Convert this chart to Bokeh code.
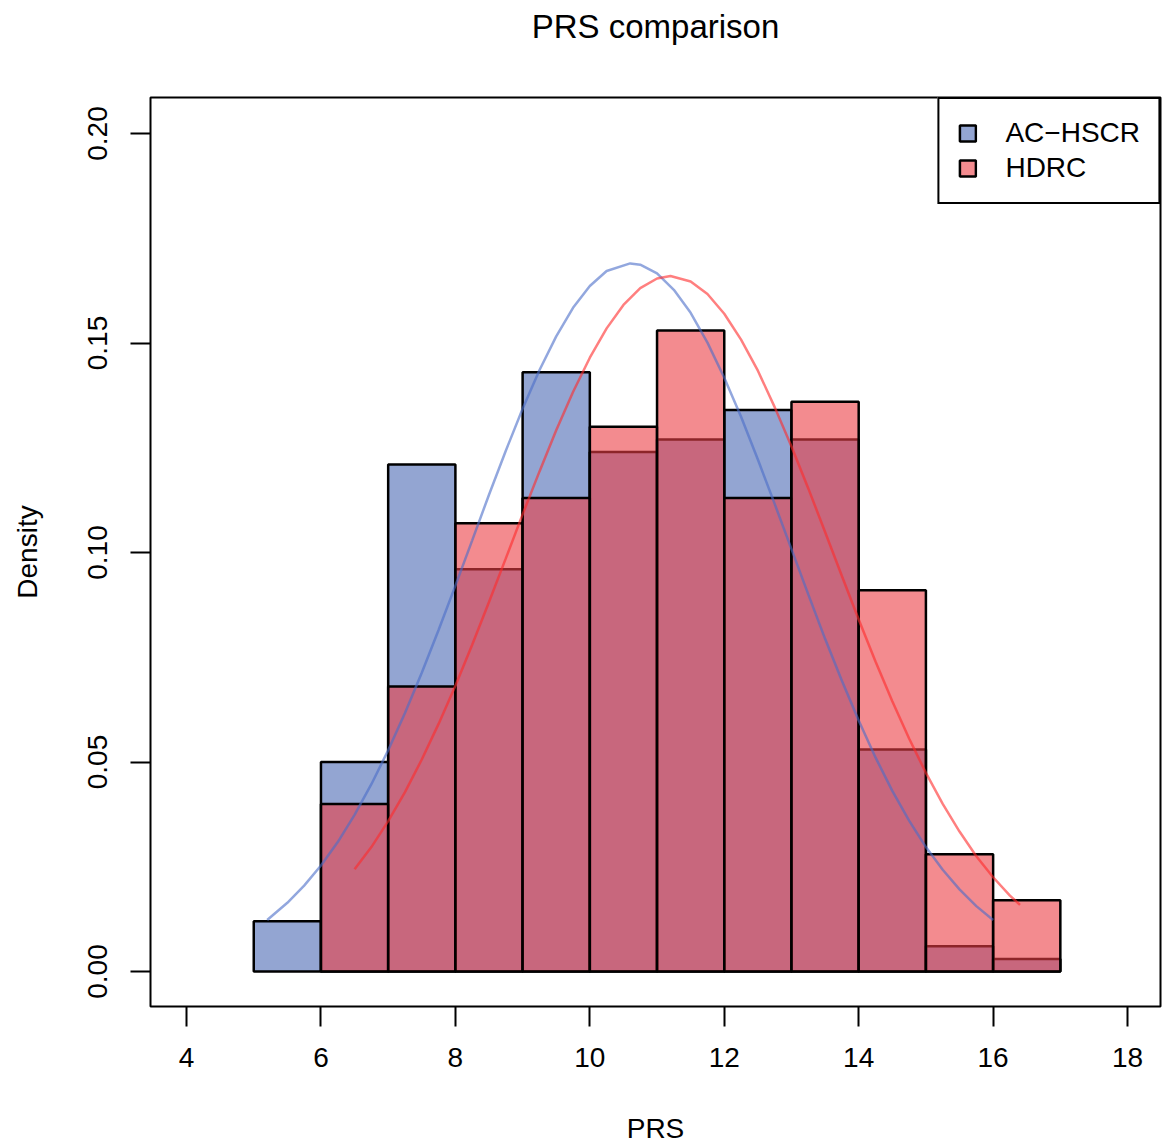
from bokeh.plotting import figure
from bokeh.models import FixedTicker, Legend, LegendItem, ColumnDataSource, Title
from bokeh.embed import file_html
from bokeh.resources import INLINE

# ---------------- data ----------------
ac_bin_left = [5, 6, 7, 8, 9, 10, 11, 12, 13, 14, 15, 16]
ac_density = [0.012, 0.050, 0.121, 0.096, 0.143, 0.124, 0.127, 0.134, 0.127, 0.053, 0.006, 0.003]

hd_bin_left = [6, 7, 8, 9, 10, 11, 12, 13, 14, 15, 16]
hd_density = [0.040, 0.068, 0.107, 0.113, 0.130, 0.153, 0.113, 0.136, 0.091, 0.028, 0.017]

ac_curve_x = [5.2, 5.5, 5.75, 6.0, 6.25, 6.5, 6.75, 7.0, 7.25, 7.5, 7.75, 8.0, 8.25, 8.5, 8.75,
              9.0, 9.25, 9.5, 9.75, 10.0, 10.25, 10.6, 10.75, 11.0, 11.25, 11.5, 11.75, 12.0,
              12.25, 12.5, 12.75, 13.0, 13.25, 13.5, 13.75, 14.0, 14.25, 14.5, 14.75, 15.0,
              15.25, 15.5, 15.75, 16.0]
ac_curve_y = [0.0123, 0.0164, 0.0205, 0.0253, 0.0309, 0.0374, 0.0447, 0.0528, 0.0617, 0.0713,
              0.0815, 0.0921, 0.1029, 0.1138, 0.1243, 0.1343, 0.1435, 0.1516, 0.1584, 0.1636,
              0.1672, 0.1690, 0.1687, 0.1666, 0.1627, 0.1572, 0.1501, 0.1417, 0.1324, 0.1222,
              0.1116, 0.1008, 0.0900, 0.0794, 0.0694, 0.0599, 0.0511, 0.0431, 0.0360, 0.0297,
              0.0243, 0.0196, 0.0156, 0.0123]

hd_curve_x = [6.5, 6.75, 7.0, 7.25, 7.5, 7.75, 8.0, 8.25, 8.5, 8.75, 9.0, 9.25, 9.5, 9.75,
              10.0, 10.25, 10.5, 10.75, 11.0, 11.2, 11.5, 11.75, 12.0, 12.25, 12.5, 12.75,
              13.0, 13.25, 13.5, 13.75, 14.0, 14.25, 14.5, 14.75, 15.0, 15.25, 15.5, 15.75,
              16.0, 16.25, 16.4]
hd_curve_y = [0.0244, 0.0297, 0.0359, 0.0428, 0.0506, 0.0591, 0.0682, 0.0780, 0.0882, 0.0986,
              0.1091, 0.1193, 0.1292, 0.1383, 0.1465, 0.1535, 0.1591, 0.1631, 0.1654, 0.1660,
              0.1647, 0.1617, 0.1570, 0.1508, 0.1434, 0.1347, 0.1253, 0.1153, 0.1049, 0.0944,
              0.0840, 0.0740, 0.0645, 0.0556, 0.0474, 0.0400, 0.0334, 0.0275, 0.0225, 0.0181,
              0.0159]

x_ticks = [4, 6, 8, 10, 12, 14, 16, 18]
y_ticks = [0.00, 0.05, 0.10, 0.15, 0.20]
y_tick_labels = ["0.00", "0.05", "0.10", "0.15", "0.20"]

series_names = ["AC\u2212HSCR", "HDRC"]
chart_title = "PRS comparison"
# --------------------------------------

FONT = "Liberation Sans"

p = figure(width=1164, height=1146, output_backend="svg", toolbar_location=None,
           x_range=(3.464, 18.49), y_range=(-0.00835, 0.2086),
           min_border_left=150, min_border_right=4, min_border_top=97, min_border_bottom=140,
           title=None)

# spacer panel next to the frame, then the real title above it
spacer = Title(text=" ", text_font=FONT, text_font_size="10px", standoff=36)
p.add_layout(spacer, "above")
main_title = Title(text=chart_title, text_font=FONT, text_font_size="33px",
                   text_font_style="normal", text_color="black", align="center", standoff=8)
p.add_layout(main_title, "above")

p.grid.visible = False
p.outline_line_color = "black"
p.outline_line_alpha = 1.0
p.outline_line_width = 2
p.background_fill_color = "white"
p.border_fill_color = "white"

ac_src = ColumnDataSource(dict(x=[b + 0.5 for b in ac_bin_left], top=ac_density))
hd_src = ColumnDataSource(dict(x=[b + 0.5 for b in hd_bin_left], top=hd_density))

r_ac = p.vbar(x="x", top="top", bottom=0, width=1.0, source=ac_src,
              fill_color="#93a5d2", fill_alpha=1.0, line_color="black", line_width=2.5)
r_hd = p.vbar(x="x", top="top", bottom=0, width=1.0, source=hd_src,
              fill_color="#eb3e44", fill_alpha=0.6, line_color="black", line_width=2.5)

p.line(ac_curve_x, ac_curve_y, line_color="#4a6cc8", line_alpha=0.6, line_width=2.5)
p.line(hd_curve_x, hd_curve_y, line_color="#ff2a2a", line_alpha=0.6, line_width=2.5)

for ax in (p.xaxis, p.yaxis):
    ax.axis_line_color = None
    ax.major_tick_out = 20
    ax.major_tick_in = 0
    ax.minor_tick_line_color = None
    ax.major_tick_line_color = "black"
    ax.major_tick_line_width = 2
    ax.major_label_text_font = FONT
    ax.major_label_text_font_size = "28px"
    ax.major_label_text_color = "black"
    ax.axis_label_text_font = FONT
    ax.axis_label_text_font_size = "28px"
    ax.axis_label_text_font_style = "normal"
    ax.axis_label_text_color = "black"

p.xaxis.major_label_standoff = 21
p.yaxis.major_label_standoff = 23
p.xaxis.ticker = FixedTicker(ticks=x_ticks)
p.yaxis.ticker = FixedTicker(ticks=y_ticks)
p.yaxis.major_label_overrides = {t: s for t, s in zip(y_ticks, y_tick_labels)}
p.yaxis.major_label_orientation = "vertical"
p.xaxis.axis_label = "PRS"
p.yaxis.axis_label = "Density"
p.xaxis.axis_label_standoff = 43
p.yaxis.axis_label_standoff = 43

legend = Legend(items=[LegendItem(label=series_names[0], renderers=[r_ac]),
                       LegendItem(label=series_names[1], renderers=[r_hd])],
                location="top_right", margin=0, padding=18, spacing=3,
                glyph_width=20, glyph_height=20, label_standoff=28,
                label_text_font=FONT, label_text_font_size="28px", label_text_color="black",
                border_line_color="black", border_line_alpha=1.0, border_line_width=2,
                background_fill_color="white", background_fill_alpha=1.0)
p.add_layout(legend)

open("out.html", "w").write(file_html(p, INLINE))
